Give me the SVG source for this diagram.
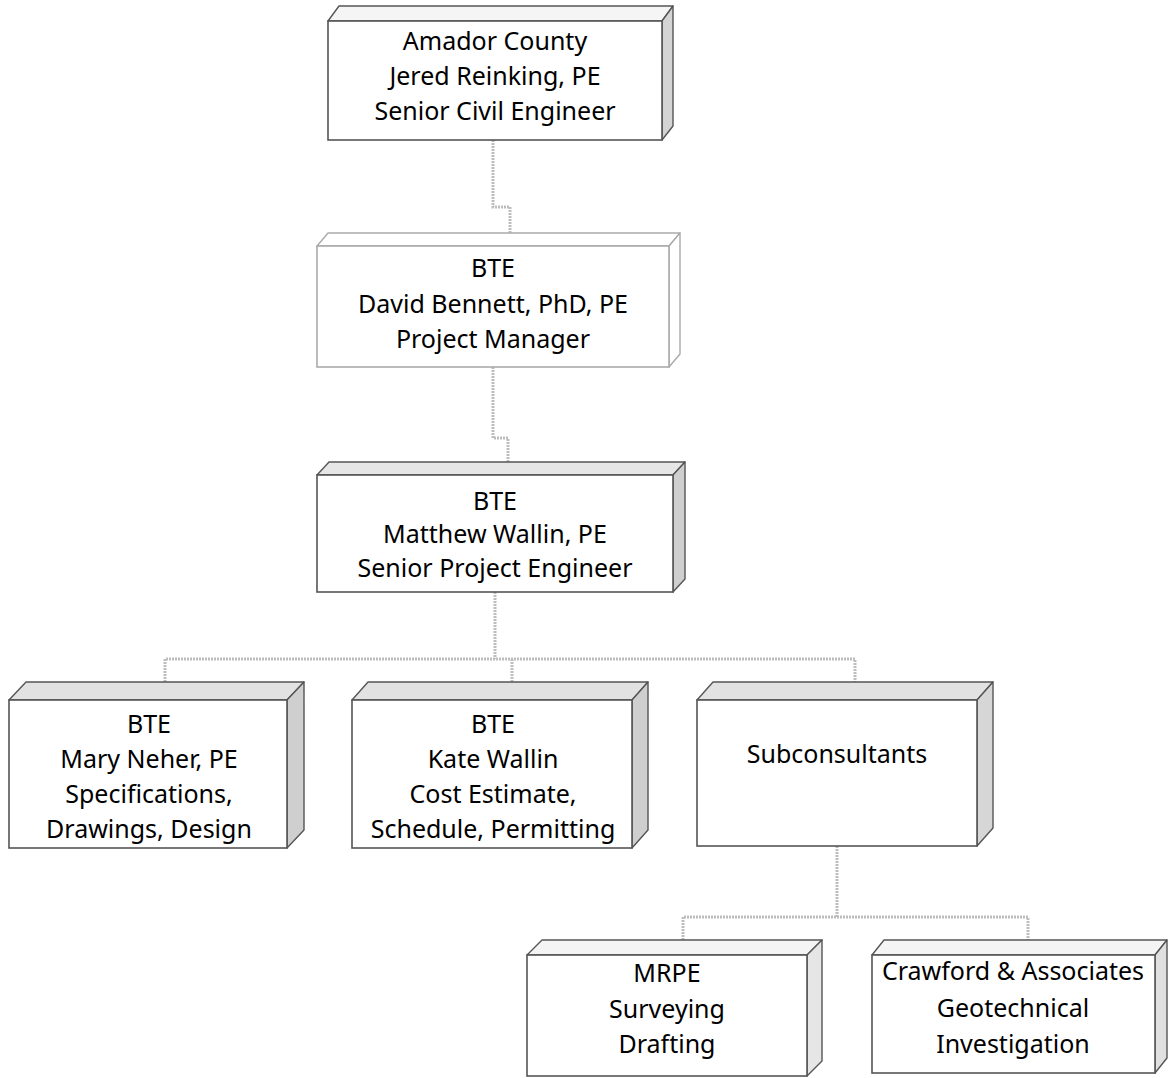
<svg xmlns="http://www.w3.org/2000/svg" width="1173" height="1078" viewBox="0 0 1173 1078">
<style>
.front{fill:#ffffff;stroke:#555;stroke-width:1.6}
.top{stroke:#555;stroke-width:1.4;stroke-linejoin:round}
.side{stroke:#555;stroke-width:1.4;stroke-linejoin:round}
.light .front,.light .top,.light .side{stroke:#aaa}
.conn{fill:none;stroke:#bdbdbd;stroke-width:3;stroke-dasharray:2 1}
text{font-family:"Noto Sans","Open Sans","Liberation Sans",sans-serif;font-size:25px;fill:#000;text-anchor:middle}
</style>
<rect width="1173" height="1078" fill="#ffffff"/>
<g id="connectors">
<path class="conn" d="M493,140 V207 H510 V233"/>
<path class="conn" d="M493,367 V438 H508 V462"/>
<path class="conn" d="M495,592 V659"/>
<path class="conn" d="M165,682 V659 H855 V682"/>
<path class="conn" d="M512,659 V682"/>
<path class="conn" d="M837,846 V917"/>
<path class="conn" d="M683,940 V917 H1028 V940"/>
</g>
<g id="n1">
<polygon class="top" fill="#f5f5f5" points="328,21 339,6 673,6 662,21"/>
<polygon class="side" fill="#d4d4d4" points="662,21 673,6 673,126 662,140"/>
<rect class="front" x="328" y="21" width="334" height="119"/>
<text x="495" y="50">Amador County</text>
<text x="495" y="85">Jered Reinking, PE</text>
<text x="495" y="120">Senior Civil Engineer</text>
</g>
<g id="n2" class="light">
<polygon class="top" fill="#ffffff" points="317,246 328,233 680,233 669,246"/>
<polygon class="side" fill="#ffffff" points="669,246 680,233 680,354 669,367"/>
<rect class="front" x="317" y="246" width="352" height="121"/>
<text x="493" y="277">BTE</text>
<text x="493" y="313">David Bennett, PhD, PE</text>
<text x="493" y="348">Project Manager</text>
</g>
<g id="n3">
<polygon class="top" fill="#e6e6e6" points="317,475 329,462 685,462 673,475"/>
<polygon class="side" fill="#cfcfcf" points="673,475 685,462 685,579 673,592"/>
<rect class="front" x="317" y="475" width="356" height="117"/>
<text x="495" y="510">BTE</text>
<text x="495" y="543">Matthew Wallin, PE</text>
<text x="495" y="577">Senior Project Engineer</text>
</g>
<g id="n4">
<polygon class="top" fill="#e2e2e2" points="9,700 26,682 304,682 287,700"/>
<polygon class="side" fill="#cfcfcf" points="287,700 304,682 304,830 287,848"/>
<rect class="front" x="9" y="700" width="278" height="148"/>
<text x="149" y="733">BTE</text>
<text x="149" y="768">Mary Neher, PE</text>
<text x="149" y="803">Specifications,</text>
<text x="149" y="838">Drawings, Design</text>
</g>
<g id="n5">
<polygon class="top" fill="#e2e2e2" points="352,700 368,682 648,682 632,700"/>
<polygon class="side" fill="#cfcfcf" points="632,700 648,682 648,830 632,848"/>
<rect class="front" x="352" y="700" width="280" height="148"/>
<text x="493" y="733">BTE</text>
<text x="493" y="768">Kate Wallin</text>
<text x="493" y="803">Cost Estimate,</text>
<text x="493" y="838">Schedule, Permitting</text>
</g>
<g id="n6">
<polygon class="top" fill="#e2e2e2" points="697,700 713,682 993,682 977,700"/>
<polygon class="side" fill="#d6d6d6" points="977,700 993,682 993,828 977,846"/>
<rect class="front" x="697" y="700" width="280" height="146"/>
<text x="837" y="763">Subconsultants</text>
</g>
<g id="n7">
<polygon class="top" fill="#f4f4f4" points="527,955 542,940 822,940 807,955"/>
<polygon class="side" fill="#e6e6e6" points="807,955 822,940 822,1061 807,1076"/>
<rect class="front" x="527" y="955" width="280" height="121"/>
<text x="667" y="982">MRPE</text>
<text x="667" y="1018">Surveying</text>
<text x="667" y="1053">Drafting</text>
</g>
<g id="n8">
<polygon class="top" fill="#f4f4f4" points="872,955 884,940 1167,940 1155,955"/>
<polygon class="side" fill="#e0e0e0" points="1155,955 1167,940 1167,1058 1155,1073"/>
<rect class="front" x="872" y="955" width="283" height="118"/>
<text x="1013" y="980">Crawford &amp; Associates</text>
<text x="1013" y="1017">Geotechnical</text>
<text x="1013" y="1053">Investigation</text>
</g>
</svg>
